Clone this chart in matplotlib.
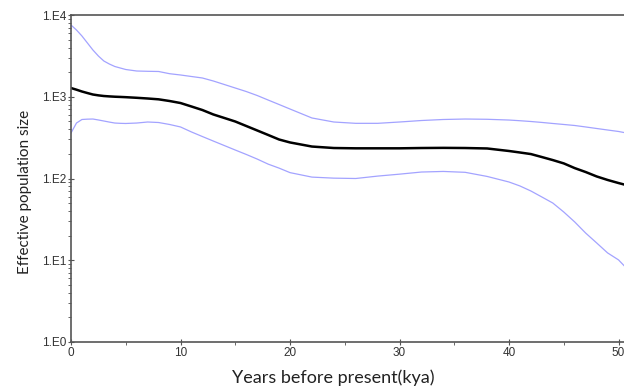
import numpy as np
import matplotlib
matplotlib.use('Agg')
import matplotlib.pyplot as plt
from matplotlib.ticker import FixedLocator, LogLocator, NullFormatter

# time before present (kya)
kya = [0, 0.5, 1, 1.5, 2, 2.5, 3, 3.5, 4, 4.5, 5, 6, 7, 8, 9, 10, 11, 12, 13, 14, 15, 16,
       17, 18, 19, 20, 22, 24, 26, 28, 30, 32, 34, 36, 38, 40, 41, 42, 43, 44, 45, 46, 47,
       48, 49, 50, 50.5]

# median effective population size
ne_median = [1279, 1220, 1159, 1110, 1065, 1040, 1021, 1010, 1001, 995, 988, 971, 952, 930,
             887, 838, 760, 688, 607, 550, 498, 439, 387, 341, 300, 276, 246, 236, 234,
             234, 234, 236, 237, 236, 233, 217, 208, 199, 183, 168, 153, 134, 120, 106, 96,
             88, 84.5]

# upper 95% HPD
ne_upper = [7546, 6553, 5534, 4545, 3732, 3151, 2737, 2515, 2345, 2247, 2154, 2065, 2048,
            2037, 1914, 1846, 1769, 1696, 1558, 1412, 1279, 1159, 1036, 912, 804, 708, 550,
            491, 473, 473, 491, 512, 527, 534, 530, 519, 509, 498, 485, 471, 458, 445, 427,
            409, 392, 376, 365]

# lower 95% HPD
ne_lower = [360, 477, 527, 532, 534, 520, 505, 490, 477, 473, 471, 477, 491, 484, 458, 427,
            371, 326, 287, 253, 223, 197, 173, 150, 134, 118, 104, 101, 100, 107, 113, 120,
            122, 119, 106, 90.6, 81, 70.3, 59.4, 50.1, 38.9, 29.4, 21.5, 16.3, 12.3, 10.1,
            8.6]

y_ticks = [1, 10, 100, 1000, 10000]
y_labels = ['1.E0', '1.E1', '1.E2', '1.E3', '1.E4']
x_ticks = [0, 10, 20, 30, 40, 50]

fig = plt.figure(figsize=(6.24, 3.86), dpi=100)
ax = fig.add_axes([71 / 624, 1 - 342 / 386, 1 - 71 / 624, (342 - 15) / 386])

ax.plot(kya, ne_upper, color='#a3a3ff', lw=0.9)
ax.plot(kya, ne_lower, color='#a3a3ff', lw=0.9)
ax.plot(kya, ne_median, color='black', lw=1.8)

ax.set_yscale('log')
ax.set_xlim(0, 50.5)
ax.set_ylim(1, 10000)

ax.yaxis.set_major_locator(FixedLocator(y_ticks))
ax.set_yticklabels(y_labels)
ax.yaxis.set_minor_locator(LogLocator(base=10, subs=np.arange(2, 10)))
ax.yaxis.set_minor_formatter(NullFormatter())
ax.set_xticks(x_ticks)
ax.xaxis.set_minor_locator(FixedLocator([5, 15, 25, 35, 45]))

for s in ['left', 'bottom', 'top']:
    ax.spines[s].set_color('#555555')
    ax.spines[s].set_linewidth(1.2)
ax.spines['right'].set_visible(False)

ax.tick_params(which='major', direction='inout', length=5, width=0.8, color='#555555',
               labelsize=8.5, labelcolor='#333333', pad=1)
ax.tick_params(which='minor', direction='out', length=2.5, width=0.7, color='#666666')
for lab in ax.get_xticklabels() + ax.get_yticklabels():
    lab.set_family('Liberation Sans')

# axis titles placed by hand, as in the original
fig.text(333 / 624, 3 / 386, 'Years before present(kya)', family='Lato', fontsize=13,
         color='#222222', ha='center', va='baseline')
fig.text(25 / 624, 1 - 191.5 / 386, 'Effective population size', family='Lato',
         fontsize=11, color='#222222', ha='center', va='center', rotation=90)

fig.savefig('out.png', dpi=100)
